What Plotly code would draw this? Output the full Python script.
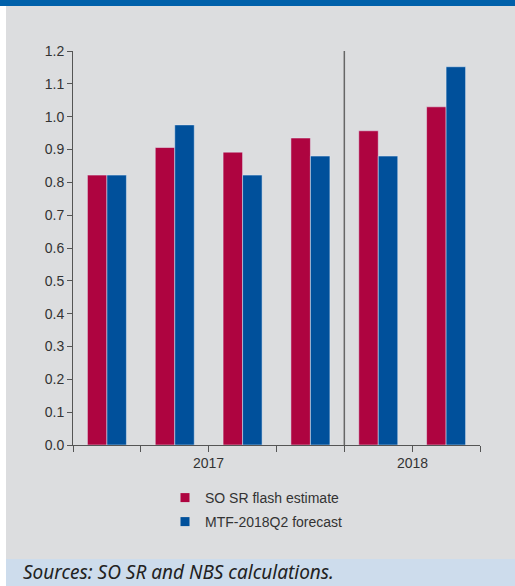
import plotly.graph_objects as go

# Quarterly values, 2017Q1 .. 2018Q2
quarters = ["2017Q1", "2017Q2", "2017Q3", "2017Q4", "2018Q1", "2018Q2"]
flash_estimate = [0.822, 0.906, 0.892, 0.935, 0.957, 1.030]
mtf_forecast = [0.822, 0.975, 0.822, 0.880, 0.880, 1.152]
year_labels = ["2017", "2018"]
year_centers = [1.5, 4.5]
y_ticks = [0.0, 0.1, 0.2, 0.3, 0.4, 0.5, 0.6, 0.7, 0.8, 0.9, 1.0, 1.1, 1.2]

RED = "#ae0440"
BLUE = "#00509b"
BG = "#dcdddf"
AXIS = "#555555"
TEXT = "#333333"

W, H = 515, 586
ML, MR, MT, MB = 73, 35, 51, 141
PW, PH = W - ML - MR, H - MT - MB


def px_x(x):
    return (x - ML) / PW


def px_y(y):
    return (H - MB - y) / PH


xpos = list(range(len(quarters)))

fig = go.Figure()
fig.add_trace(go.Bar(x=xpos, y=flash_estimate, marker_color=RED, showlegend=False,
                     hovertext=quarters, name="SO SR flash estimate"))
fig.add_trace(go.Bar(x=xpos, y=mtf_forecast, marker_color=BLUE, showlegend=False,
                     hovertext=quarters, name="MTF-2018Q2 forecast"))

# legend entries with small square swatches
fig.add_trace(go.Scatter(x=[None], y=[None], mode="markers", name="SO SR flash estimate",
                         marker=dict(symbol="square", size=9, color=RED), legend="legend"))
fig.add_trace(go.Scatter(x=[None], y=[None], mode="markers", name="MTF-2018Q2 forecast",
                         marker=dict(symbol="square", size=9, color=BLUE), legend="legend2"))

shapes = [
    # white strip on the left edge
    dict(type="rect", xref="paper", yref="paper", x0=px_x(0), x1=px_x(6), y0=px_y(H), y1=px_y(0),
         fillcolor="white", line_width=0, layer="below"),
    # header band
    dict(type="rect", xref="paper", yref="paper", x0=px_x(0), x1=px_x(W), y0=px_y(6), y1=px_y(0),
         fillcolor="#0060aa", line_width=0, layer="below"),
    # source band
    dict(type="rect", xref="paper", yref="paper", x0=px_x(6), x1=px_x(W), y0=px_y(H), y1=px_y(559),
         fillcolor="#cddcec", line_width=0, layer="below"),
    # year divider
    dict(type="line", xref="x", yref="y", x0=3.5, x1=3.5, y0=0, y1=1.205,
         line=dict(color="#666666", width=1.5)),
]

annotations = [
    dict(x=xc, y=px_y(463), xref="x", yref="paper", text=lab, showarrow=False,
         xanchor="center", yanchor="middle",
         font=dict(family="Liberation Sans, Arial, sans-serif", size=14, color=TEXT))
    for xc, lab in zip(year_centers, year_labels)
]
annotations.append(dict(
    x=px_x(21), y=px_y(572), xref="paper", yref="paper",
    text="Sources: SO SR and NBS calculations.", showarrow=False,
    xanchor="left", yanchor="middle",
    font=dict(family="Noto Sans, sans-serif", size=19, color="#222222", style="italic")))

legend_font = dict(family="Liberation Sans, Arial, sans-serif", size=14, color=TEXT)

fig.update_layout(
    width=W, height=H,
    margin=dict(l=ML, r=MR, t=MT, b=MB),
    paper_bgcolor=BG, plot_bgcolor=BG,
    barmode="group", bargap=0.425, bargroupgap=0,
    shapes=shapes, annotations=annotations,
    legend=dict(x=px_x(165), y=px_y(498), xanchor="left", yanchor="middle",
                bgcolor="rgba(0,0,0,0)", font=legend_font),
    legend2=dict(x=px_x(165), y=px_y(522), xanchor="left", yanchor="middle",
                 bgcolor="rgba(0,0,0,0)", font=legend_font),
    xaxis=dict(range=[-0.5, 5.5], tickvals=[i - 0.5 for i in range(7)],
               ticktext=[""] * 7, ticks="outside", ticklen=6, tickcolor=AXIS,
               showline=True, linecolor=AXIS, linewidth=1, showgrid=False, zeroline=False),
    yaxis=dict(range=[0, 1.2], tickvals=y_ticks, tickformat=".1f",
               ticks="outside", ticklen=5, tickcolor=AXIS,
               showline=True, linecolor=AXIS, linewidth=1, showgrid=False, zeroline=False,
               tickfont=dict(family="Liberation Sans, Arial, sans-serif", size=14, color=TEXT)),
)

fig.write_html("out.html")
